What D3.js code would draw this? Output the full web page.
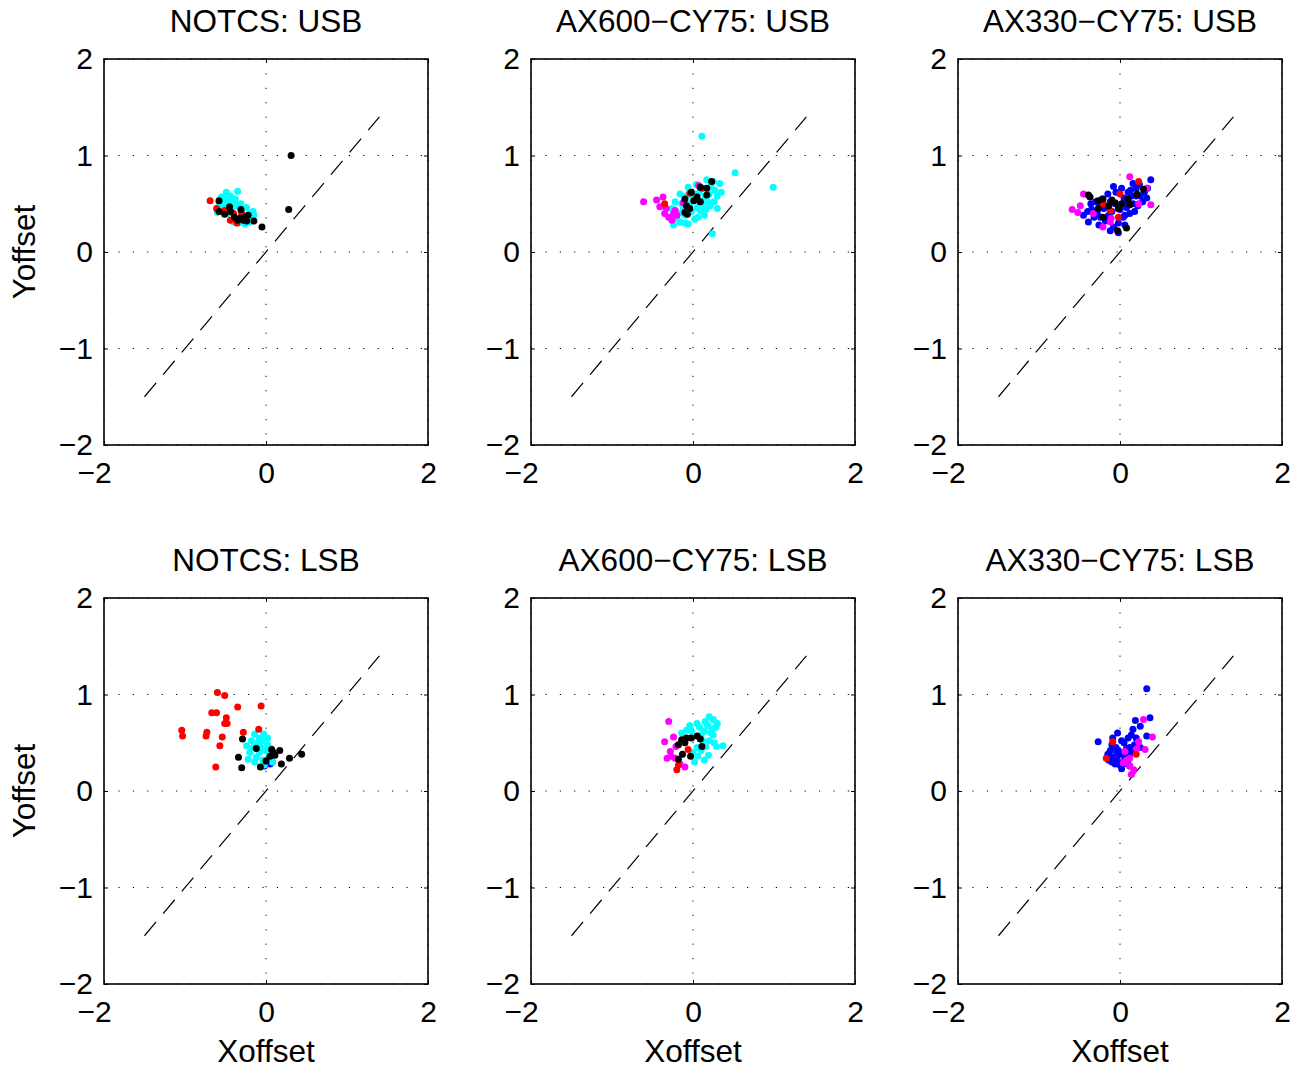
<!DOCTYPE html>
<html>
<head>
<meta charset="utf-8">
<script src="https://cdn.jsdelivr.net/npm/d3@7"></script>
<style>
  body { margin: 0; background: #fff; }
  text { font-family: "Liberation Sans", Arial, sans-serif; fill: #000; }
</style>
</head>
<body>
<div id="chart"></div>
<script>
// values, [Xoffset, Yoffset]
const titles = ["NOTCS: USB", "AX600\u2212CY75: USB", "AX330\u2212CY75: USB",
                "NOTCS: LSB", "AX600\u2212CY75: LSB", "AX330\u2212CY75: LSB"]
const xTicks = [-2, 0, 2]
const yTicks = [-2, -1, 0, 1, 2]
const diagStart = -1.5, diagEnd = 1.4

const usbNotcsCyan = [[-0.49,0.62],[-0.35,0.63],[-0.55,0.57],[-0.51,0.55],[-0.40,0.51],[-0.60,0.41],[-0.16,0.42],[-0.20,0.31],[-0.40,0.31],[-0.24,0.46],[-0.45,0.52],[-0.57,0.48],[-0.53,0.44],[-0.47,0.40],[-0.42,0.45],[-0.36,0.48],[-0.30,0.42],[-0.28,0.38],[-0.18,0.36],[-0.22,0.34],[-0.34,0.30],[-0.26,0.29],[-0.15,0.38],[-0.38,0.55],[-0.44,0.58],[-0.31,0.50],[-0.50,0.50],[-0.58,0.52],[-0.20,0.40],[-0.48,0.46]]
const usbNotcsRed = [[-0.69,0.53],[-0.61,0.45],[-0.44,0.33],[-0.36,0.30],[-0.51,0.43],[-0.40,0.40],[-0.30,0.40]]
const usbNotcsBlack = [[0.31,1.00],[0.28,0.44],[-0.05,0.26],[-0.15,0.32],[-0.58,0.53],[-0.58,0.42],[-0.51,0.39],[-0.45,0.47],[-0.44,0.42],[-0.31,0.44],[-0.39,0.36],[-0.32,0.35],[-0.26,0.36],[-0.22,0.38],[-0.28,0.33],[-0.35,0.33],[-0.24,0.32]]

const usb600Cyan = [[0.11,1.20],[0.52,0.82],[0.99,0.67],[0.24,0.19],[0.33,0.71],[0.17,0.75],[0.27,0.64],[0.21,0.48],[0.02,0.34],[-0.06,0.29],[-0.16,0.31],[-0.24,0.28],[-0.06,0.67],[-0.16,0.60],[-0.22,0.52],[-0.26,0.45],[0.09,0.43],[0.15,0.57],[0.25,0.73],[0.20,0.60],[0.30,0.58],[0.12,0.50],[0.05,0.46],[-0.02,0.42],[-0.10,0.38],[-0.12,0.45],[-0.18,0.40],[0.00,0.55],[0.08,0.62],[0.22,0.68],[0.18,0.52],[0.26,0.52],[0.14,0.38],[-0.04,0.50],[-0.08,0.58],[0.04,0.70],[0.12,0.66],[0.30,0.45],[0.06,0.36],[-0.14,0.50],[-0.20,0.35],[0.35,0.62],[0.16,0.44],[-0.10,0.30],[0.02,0.60]]
const usb600Magenta = [[-0.61,0.52],[-0.45,0.54],[-0.37,0.57],[-0.41,0.47],[-0.35,0.40],[-0.30,0.36],[-0.26,0.33],[-0.33,0.45],[-0.22,0.43],[-0.20,0.38],[-0.24,0.40],[-0.12,0.51],[0.07,0.69]]
const usb600Red = [[-0.35,0.50],[0.11,0.66],[-0.04,0.61]]
const usb600Black = [[0.23,0.73],[0.17,0.66],[0.09,0.67],[-0.02,0.62],[0.05,0.57],[-0.10,0.55],[0.09,0.52],[0.17,0.59],[-0.08,0.48],[-0.04,0.45],[-0.10,0.41],[-0.07,0.39],[0.01,0.53]]

const usb330Blue = [[0.38,0.75],[0.16,0.71],[-0.08,0.68],[-0.45,0.38],[-0.39,0.31],[-0.12,0.22],[-0.26,0.28],[0.06,0.38],[0.10,0.62],[0.20,0.66],[0.25,0.58],[0.30,0.62],[0.14,0.58],[0.05,0.56],[-0.05,0.62],[-0.15,0.60],[-0.30,0.52],[-0.35,0.44],[-0.28,0.40],[-0.20,0.45],[-0.10,0.42],[0.00,0.44],[0.08,0.46],[0.16,0.50],[0.22,0.48],[0.28,0.52],[0.33,0.56],[-0.02,0.30],[-0.08,0.26],[-0.18,0.32],[-0.32,0.36],[-0.40,0.42],[0.12,0.40],[0.18,0.42],[-0.06,0.50],[-0.12,0.52],[-0.22,0.55],[0.02,0.66],[0.24,0.70],[0.10,0.52],[-0.25,0.48],[-0.14,0.38],[0.04,0.36],[-0.02,0.20],[0.13,0.64],[0.34,0.66],[-0.36,0.50],[-0.24,0.36],[0.06,0.28],[0.20,0.58]]
const usb330Magenta = [[0.12,0.78],[0.33,0.66],[0.38,0.49],[0.23,0.50],[-0.59,0.44],[-0.49,0.48],[-0.45,0.60],[-0.33,0.40],[-0.21,0.26],[-0.12,0.31],[-0.11,0.35],[-0.52,0.41]]
const usb330Red = [[0.23,0.73],[0.00,0.60],[-0.21,0.50],[-0.02,0.36],[-0.12,0.43]]
const usb330Black = [[-0.39,0.59],[-0.37,0.57],[-0.21,0.55],[-0.10,0.54],[-0.27,0.53],[-0.14,0.48],[0.02,0.50],[0.10,0.55],[0.12,0.49],[-0.02,0.45],[-0.27,0.45],[-0.21,0.36],[0.21,0.60],[0.29,0.65],[-0.03,0.22],[0.08,0.25],[-0.06,0.51]]

const lsbNotcsBlue = [[-0.02,0.26],[0.08,0.30],[0.05,0.28]]
const lsbNotcsCyan = [[-0.14,0.59],[-0.03,0.59],[-0.22,0.33],[-0.10,0.50],[-0.05,0.52],[0.02,0.48],[-0.16,0.45],[-0.20,0.40],[-0.08,0.40],[0.00,0.42],[-0.12,0.35],[-0.04,0.32],[0.04,0.36],[-0.18,0.52],[-0.08,0.55],[0.06,0.44],[-0.14,0.30],[-0.02,0.27],[0.08,0.30],[-0.24,0.47],[-0.10,0.46],[0.02,0.55],[-0.06,0.45]]
const lsbNotcsRed = [[-0.60,1.02],[-0.51,0.99],[-0.35,0.87],[-0.06,0.88],[-0.67,0.81],[-0.61,0.81],[-0.49,0.76],[-0.51,0.70],[-0.48,0.70],[-1.04,0.63],[-1.03,0.57],[-0.73,0.61],[-0.74,0.57],[-0.54,0.56],[-0.57,0.47],[-0.28,0.61],[-0.09,0.64],[-0.62,0.25]]
const lsbNotcsBlack = [[-0.29,0.54],[-0.12,0.44],[-0.34,0.35],[-0.30,0.24],[-0.07,0.25],[0.00,0.31],[0.07,0.43],[0.11,0.37],[0.17,0.42],[0.09,0.40],[0.19,0.28],[0.29,0.34],[0.44,0.38],[0.05,0.36]]

const lsb600Cyan = [[0.20,0.77],[0.25,0.74],[0.15,0.72],[0.05,0.70],[-0.08,0.63],[-0.14,0.60],[0.29,0.46],[0.37,0.47],[0.19,0.37],[0.02,0.30],[0.25,0.58],[0.10,0.58],[0.22,0.60],[0.28,0.66],[0.18,0.68],[-0.02,0.62],[0.14,0.62],[0.08,0.66],[0.12,0.52],[0.05,0.45],[0.00,0.40],[0.20,0.52],[0.26,0.50],[0.10,0.42],[0.16,0.46],[-0.04,0.68],[0.30,0.70],[0.24,0.64],[0.06,0.36],[0.14,0.32]]
const lsb600Magenta = [[-0.30,0.72],[-0.35,0.51],[-0.24,0.56],[-0.28,0.41],[-0.32,0.34],[-0.27,0.36],[-0.21,0.46],[-0.10,0.25],[-0.16,0.28],[-0.22,0.34]]
const lsb600Red = [[-0.18,0.27],[-0.20,0.22],[-0.06,0.43]]
const lsb600Black = [[-0.18,0.48],[-0.14,0.53],[-0.08,0.55],[-0.02,0.55],[0.05,0.57],[0.09,0.54],[0.11,0.46],[-0.13,0.38],[-0.03,0.36],[-0.18,0.33],[-0.10,0.50]]

const lsb330Blue = [[0.33,1.06],[0.37,0.76],[0.19,0.73],[0.25,0.67],[0.16,0.64],[-0.03,0.60],[-0.27,0.51],[0.33,0.57],[0.10,0.55],[0.05,0.50],[-0.05,0.45],[-0.12,0.42],[-0.15,0.38],[-0.08,0.35],[-0.02,0.30],[0.04,0.28],[0.10,0.32],[0.15,0.40],[0.18,0.48],[0.08,0.44],[0.00,0.38],[-0.06,0.28],[0.02,0.23],[0.12,0.26],[-0.10,0.48],[0.02,0.52],[0.12,0.45],[-0.14,0.32],[0.06,0.34],[0.20,0.55],[0.14,0.58],[-0.04,0.40],[0.08,0.38],[0.25,0.45],[-0.09,0.55],[-0.10,0.30],[-0.04,0.34],[0.00,0.27],[0.06,0.40],[-0.12,0.36],[-0.02,0.42]]
const lsb330Magenta = [[0.29,0.74],[0.40,0.56],[0.23,0.51],[0.21,0.44],[0.31,0.43],[0.06,0.41],[0.12,0.34],[0.04,0.29],[0.12,0.26],[0.14,0.17],[0.17,0.22],[0.08,0.32]]
const lsb330Red = [[-0.09,0.51],[-0.17,0.34],[0.20,0.38]]

const panels = [
  [["#00ffff", usbNotcsCyan], ["#ff0000", usbNotcsRed], ["#000000", usbNotcsBlack]],
  [["#00ffff", usb600Cyan], ["#ff00ff", usb600Magenta], ["#ff0000", usb600Red], ["#000000", usb600Black]],
  [["#0000ff", usb330Blue], ["#ff00ff", usb330Magenta], ["#ff0000", usb330Red], ["#000000", usb330Black]],
  [["#0000ff", lsbNotcsBlue], ["#00ffff", lsbNotcsCyan], ["#ff0000", lsbNotcsRed], ["#000000", lsbNotcsBlack]],
  [["#00ffff", lsb600Cyan], ["#ff00ff", lsb600Magenta], ["#ff0000", lsb600Red], ["#000000", lsb600Black]],
  [["#0000ff", lsb330Blue], ["#ff00ff", lsb330Magenta], ["#ff0000", lsb330Red]]
]

const width = 1295, height = 1068
const boxW = 324, boxH = 386
const lefts = [104, 531, 958], tops = [59, 598]

const svg = d3.select('#chart')
              .append('svg')
              .attr('width', width)
              .attr('height', height)

panels.forEach(function(series, i) {
  const col = i % 3, row = Math.floor(i / 3)
  const g = svg.append('g')
               .attr('transform', 'translate(' + lefts[col] + ',' + tops[row] + ')')

  const x = d3.scaleLinear().domain([-2, 2]).range([0, boxW]),
        y = d3.scaleLinear().domain([-2, 2]).range([boxH, 0])

  // dotted grid
  g.selectAll('.gx').data(xTicks).enter().append('line')
   .attr('x1', d => x(d)).attr('x2', d => x(d))
   .attr('y1', 0).attr('y2', boxH)
   .attr('stroke', '#000').attr('stroke-width', 1)
   .attr('stroke-dasharray', '1.2,13.2')
  g.selectAll('.gy').data(yTicks).enter().append('line')
   .attr('y1', d => y(d)).attr('y2', d => y(d))
   .attr('x1', 0).attr('x2', boxW)
   .attr('stroke', '#000').attr('stroke-width', 1)
   .attr('stroke-dasharray', '1.2,13.2')

  // y = x reference
  g.append('line')
   .attr('x1', x(diagStart)).attr('y1', y(diagStart))
   .attr('x2', x(diagEnd)).attr('y2', y(diagEnd))
   .attr('stroke', '#000').attr('stroke-width', 1.2)
   .attr('stroke-dasharray', '18,11')

  series.forEach(function(s) {
    g.selectAll(null).data(s[1]).enter().append('circle')
     .attr('cx', d => x(d[0]))
     .attr('cy', d => y(d[1]))
     .attr('r', 3.5)
     .attr('fill', s[0])
  })

  // axes with inward ticks, all four sides
  const fmt = d3.format('d')
  const xb = g.append('g').attr('transform', 'translate(0,' + boxH + ')')
   .call(d3.axisBottom(x).tickValues(xTicks).tickFormat(fmt).tickSize(-4).tickPadding(17))
  xb.selectAll('.tick text').attr('dx', d => d < 0 ? -10 : 0)
  g.append('g')
   .call(d3.axisTop(x).tickValues(xTicks).tickFormat('').tickSize(-4))
  g.append('g')
   .call(d3.axisLeft(y).tickValues(yTicks).tickFormat(fmt).tickSize(-4).tickPadding(11))
  g.append('g').attr('transform', 'translate(' + boxW + ',0)')
   .call(d3.axisRight(y).tickValues(yTicks).tickFormat('').tickSize(-4))
  g.selectAll('.domain').remove()
  g.selectAll('.tick line').attr('stroke-width', 1)
  g.selectAll('.tick text').style('font-size', '30px')
   .style('font-family', '"Liberation Sans", Arial, sans-serif')

  g.append('rect')
   .attr('width', boxW).attr('height', boxH)
   .attr('fill', 'none').attr('stroke', '#000').attr('stroke-width', 1.6)

  g.append('text')
   .attr('x', boxW / 2).attr('y', -27)
   .attr('text-anchor', 'middle')
   .style('font-size', '31.5px')
   .text(titles[i])

  if (col === 0) {
    g.append('text')
     .attr('transform', 'translate(-69,' + boxH / 2 + ') rotate(-90)')
     .attr('text-anchor', 'middle')
     .style('font-size', '31.5px')
     .text('Yoffset')
  }
  if (row === 1) {
    g.append('text')
     .attr('x', boxW / 2).attr('y', boxH + 78)
     .attr('text-anchor', 'middle')
     .style('font-size', '31.5px')
     .text('Xoffset')
  }
})
</script>
</body>
</html>
